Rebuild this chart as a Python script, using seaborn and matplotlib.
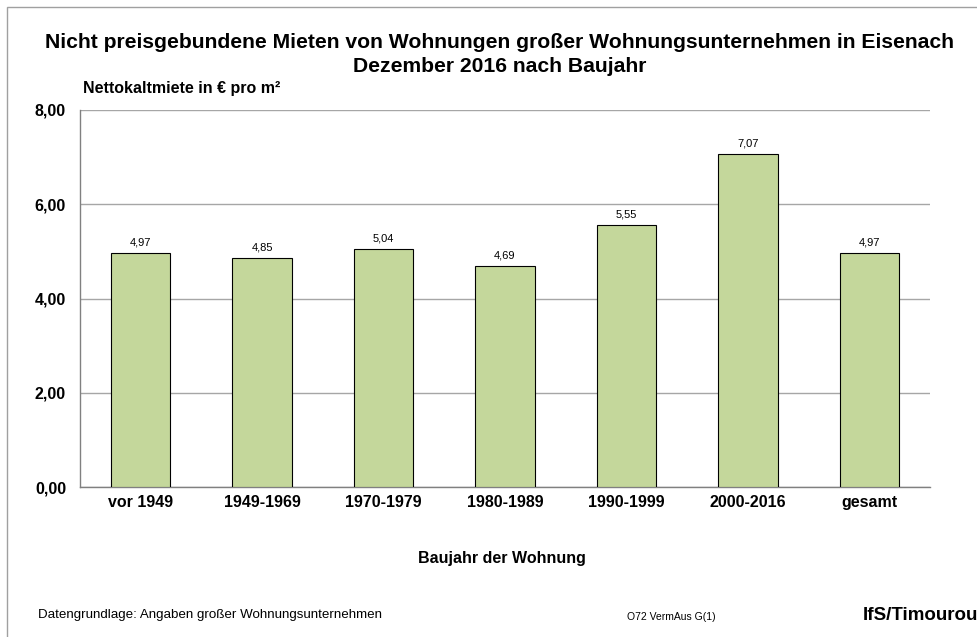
import numpy as np
import pandas as pd
import matplotlib
matplotlib.use("Agg")
import matplotlib.pyplot as plt
import seaborn as sns
from matplotlib.patches import Rectangle

categories = ["vor 1949", "1949-1969", "1970-1979", "1980-1989", "1990-1999", "2000-2016", "gesamt"]
rents = [4.97, 4.85, 5.04, 4.69, 5.55, 7.07, 4.97]
yticks = [0, 2, 4, 6, 8]

sns.set_style("white")
plt.rcParams['font.family'] = ['Liberation Sans', 'DejaVu Sans']
plt.rcParams['text.color'] = 'black'
plt.rcParams['xtick.labelcolor'] = 'black'
plt.rcParams['ytick.labelcolor'] = 'black'


def de(v):
    # German decimal comma
    return ("%.2f" % v).replace(".", ",")


df = pd.DataFrame({"Baujahr": categories, "Miete": rents})

fig = plt.figure(figsize=(9.78, 6.37), dpi=100)
ax = fig.add_axes([80 / 978, 1 - 487 / 637, 850 / 978, 377 / 637])

sns.barplot(data=df, x="Baujahr", y="Miete", color="#C4D79B", saturation=1,
            width=0.49, edgecolor="black", linewidth=0.8, ax=ax, zorder=3)

ax.set_ylim(0, 8)
ax.set_xlim(-0.5, len(categories) - 0.5)
ax.set_yticks(yticks)
ax.set_yticklabels([de(v) for v in yticks], fontsize=11.5, fontweight="bold", color="black")
ax.yaxis.grid(True, color="#a6a6a6", linewidth=1, zorder=0)
ax.set_axisbelow(True)

# category labels centred, tick marks at category boundaries
ax.set_xticks(range(len(categories)))
ax.set_xticklabels(categories, fontsize=11.5, fontweight="bold", color="black")
ax.tick_params(axis="x", length=0, pad=6)
ax.set_xticks(np.arange(-0.5, len(categories), 1), minor=True)
ax.tick_params(axis="x", which="minor", length=4, color="#808080", direction="out")
ax.tick_params(axis="y", length=4, color="#808080", direction="out", pad=6)

for s in ["top", "right"]:
    ax.spines[s].set_visible(False)
for s in ["left", "bottom"]:
    ax.spines[s].set_color("#808080")
    ax.spines[s].set_linewidth(1)

for i, v in enumerate(rents):
    ax.text(i, v + 0.12, de(v), ha="center", va="bottom", fontsize=8, color="black")

ax.set_xlabel("")
ax.set_ylabel("")

fig.text(500 / 978, 1 - 43 / 637, "Nicht preisgebundene Mieten von Wohnungen großer Wohnungsunternehmen in Eisenach",
         ha="center", va="center", fontsize=15.2, fontweight="bold")
fig.text(500 / 978, 1 - 67 / 637, "Dezember 2016 nach Baujahr",
         ha="center", va="center", fontsize=15.2, fontweight="bold")
fig.text(83 / 978, 1 - 88 / 637, "Nettokaltmiete in € pro m²", ha="left", va="center",
         fontsize=11.5, fontweight="bold")
fig.text(502 / 978, 1 - 558 / 637, "Baujahr der Wohnung", ha="center", va="center",
         fontsize=11.5, fontweight="bold")
fig.text(38 / 978, 1 - 615 / 637, "Datengrundlage: Angaben großer Wohnungsunternehmen",
         ha="left", va="center", fontsize=9.6)
fig.text(627 / 978, 1 - 617 / 637, "O72 VermAus G(1)", ha="left", va="center", fontsize=7.5)
fig.text(978 / 978, 1 - 615 / 637, "IfS/Timourou", ha="right", va="center",
         fontsize=13.5, fontweight="bold")

fig.patches.append(Rectangle((7 / 978, -0.1), 1.2, 1 - 7 / 637 + 0.1, transform=fig.transFigure,
                             fill=False, edgecolor="#a0a0a0", linewidth=1))

fig.savefig("out.png", dpi=100)
